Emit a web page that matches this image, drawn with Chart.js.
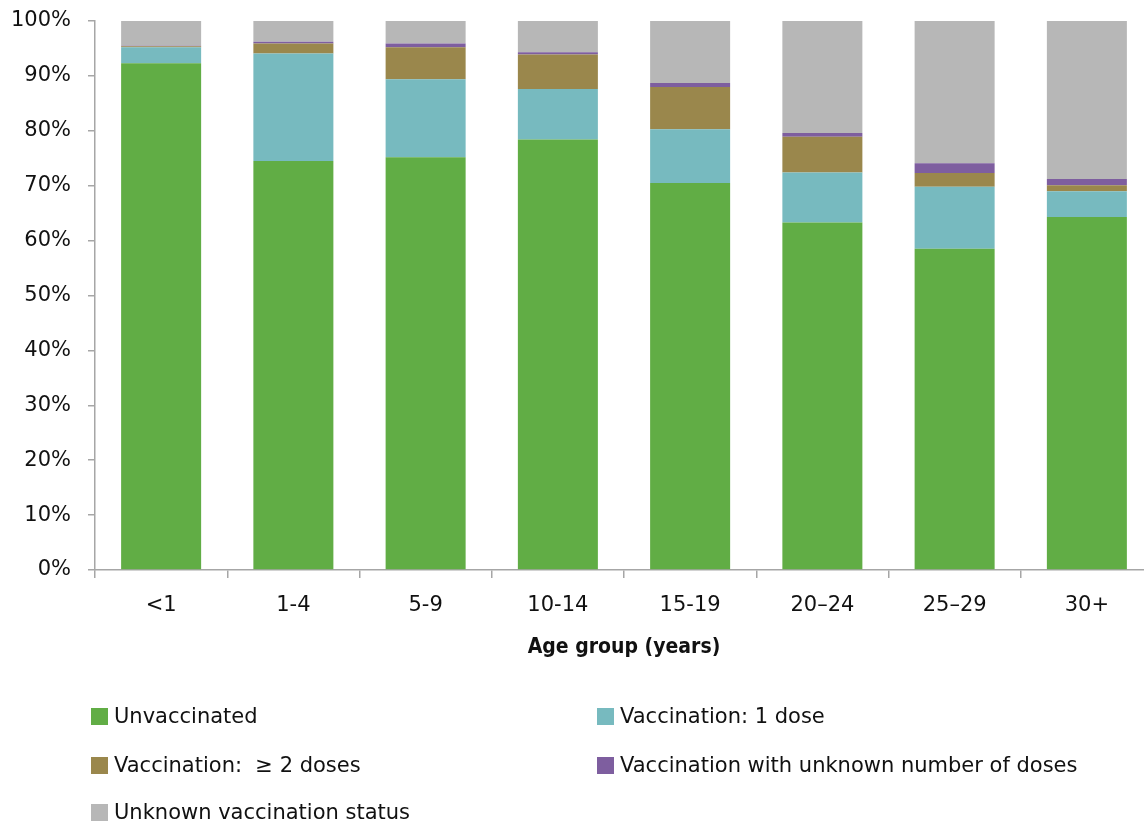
<!DOCTYPE html>
<html>
<head>
<meta charset="utf-8">
<script src="https://cdn.jsdelivr.net/npm/chart.js@4/dist/chart.umd.min.js"></script>
<style>
  html, body { margin: 0; padding: 0; background: #fff; overflow: hidden; width: 1144px; height: 824px; }
  #wrap { position: absolute; left: 0; top: 0; width: 1160px; height: 680px; }
  #legend { position: absolute; left: 0; top: 0; width: 1144px; height: 824px; pointer-events: none;
            font-family: "DejaVu Sans", sans-serif; font-size: 21px; color: #111; }
  .item { position: absolute; display: flex; align-items: center; white-space: pre; }
  .sw { width: 17px; height: 17px; margin-right: 6px; }
</style>
</head>
<body>
<div id="wrap"><canvas id="c" width="1160" height="680"></canvas></div>
<div id="legend"></div>
<script>
// Age groups (x axis) and percentage share of cases per vaccination status
const ageGroups = ['<1', '1-4', '5-9', '10-14', '15-19', '20\u201324', '25\u201329', '30+'];
const unvaccinated   = [92.3, 74.5, 75.2, 78.4, 70.5, 63.3, 58.5, 64.3];
const oneDose        = [2.9, 19.6, 14.2, 9.2, 9.8, 9.1, 11.3, 4.7];
const twoPlusDoses   = [0.2, 1.8, 5.8, 6.3, 7.7, 6.5, 2.5, 1.1];
const unknownDoses   = [0.1, 0.3, 0.7, 0.4, 0.7, 0.7, 1.8, 1.1];
const unknownStatus  = [4.5, 3.8, 4.1, 5.7, 11.3, 20.4, 25.9, 28.8];
const yTicks = [0, 10, 20, 30, 40, 50, 60, 70, 80, 90, 100];

const seriesNames = ['Unvaccinated', 'Vaccination: 1 dose', 'Vaccination:  \u2265 2 doses',
                     'Vaccination with unknown number of doses', 'Unknown vaccination status'];
const seriesColors = ['#61AD45', '#77BABF', '#9A874C', '#7E5E9F', '#B7B7B7'];
const seriesData = [unvaccinated, oneDose, twoPlusDoses, unknownDoses, unknownStatus];

const FONT = '"DejaVu Sans", sans-serif';
const FONT_TITLE = '"DejaVu Sans Condensed", "DejaVu Sans", sans-serif';

const datasets = seriesData.map((d, i) => ({
  label: seriesNames[i],
  data: d,
  backgroundColor: seriesColors[i],
  borderWidth: 0,
  barPercentage: 1,
  categoryPercentage: 0.605
}));

new Chart(document.getElementById('c'), {
  type: 'bar',
  data: { labels: ageGroups, datasets },
  options: {
    responsive: false,
    animation: false,
    layout: { padding: { top: 21, right: 7, left: 0, bottom: 0 } },
    plugins: { legend: { display: false }, tooltip: { enabled: false } },
    scales: {
      x: {
        stacked: true,
        grid: { display: true, drawOnChartArea: false, offset: true, color: '#A6A6A6', tickLength: 8, lineWidth: 1.5 },
        border: { display: true, color: '#A6A6A6', width: 1.5 },
        ticks: { color: '#111', font: { family: FONT, size: 21 }, padding: 15, maxRotation: 0 },
        title: { display: true, text: 'Age group (years)', color: '#111',
                 font: { family: FONT_TITLE, size: 21, weight: 'bold' }, padding: { top: 12, bottom: 20 } },
        afterFit: s => { s.height = 110; s.paddingLeft = 0; s.paddingRight = 0; }
      },
      y: {
        stacked: true,
        min: 0, max: 100,
        afterBuildTicks: s => { s.ticks = yTicks.map(v => ({ value: v })); },
        grid: { display: true, drawOnChartArea: false, color: '#A6A6A6', tickLength: 7, lineWidth: 1.5 },
        border: { display: true, color: '#A6A6A6', width: 1.5 },
        ticks: { color: '#111', font: { family: FONT, size: 21 }, padding: 17, callback: v => v + '%' },
        afterFit: s => { s.width = 95; s.paddingTop = 0; s.paddingBottom = 0; }
      }
    }
  }
});

// Two-column legend beneath the plot
const legendPos = [[91, 717], [597, 717], [91, 766], [597, 766], [91, 813]];
const legend = document.getElementById('legend');
seriesNames.forEach((name, i) => {
  const el = document.createElement('div');
  el.className = 'item';
  el.style.left = legendPos[i][0] + 'px';
  el.style.top = (legendPos[i][1] - 13) + 'px';
  el.innerHTML = '<span class="sw" style="background:' + seriesColors[i] + '"></span><span></span>';
  el.lastChild.textContent = name;
  legend.appendChild(el);
});
</script>
</body>
</html>
